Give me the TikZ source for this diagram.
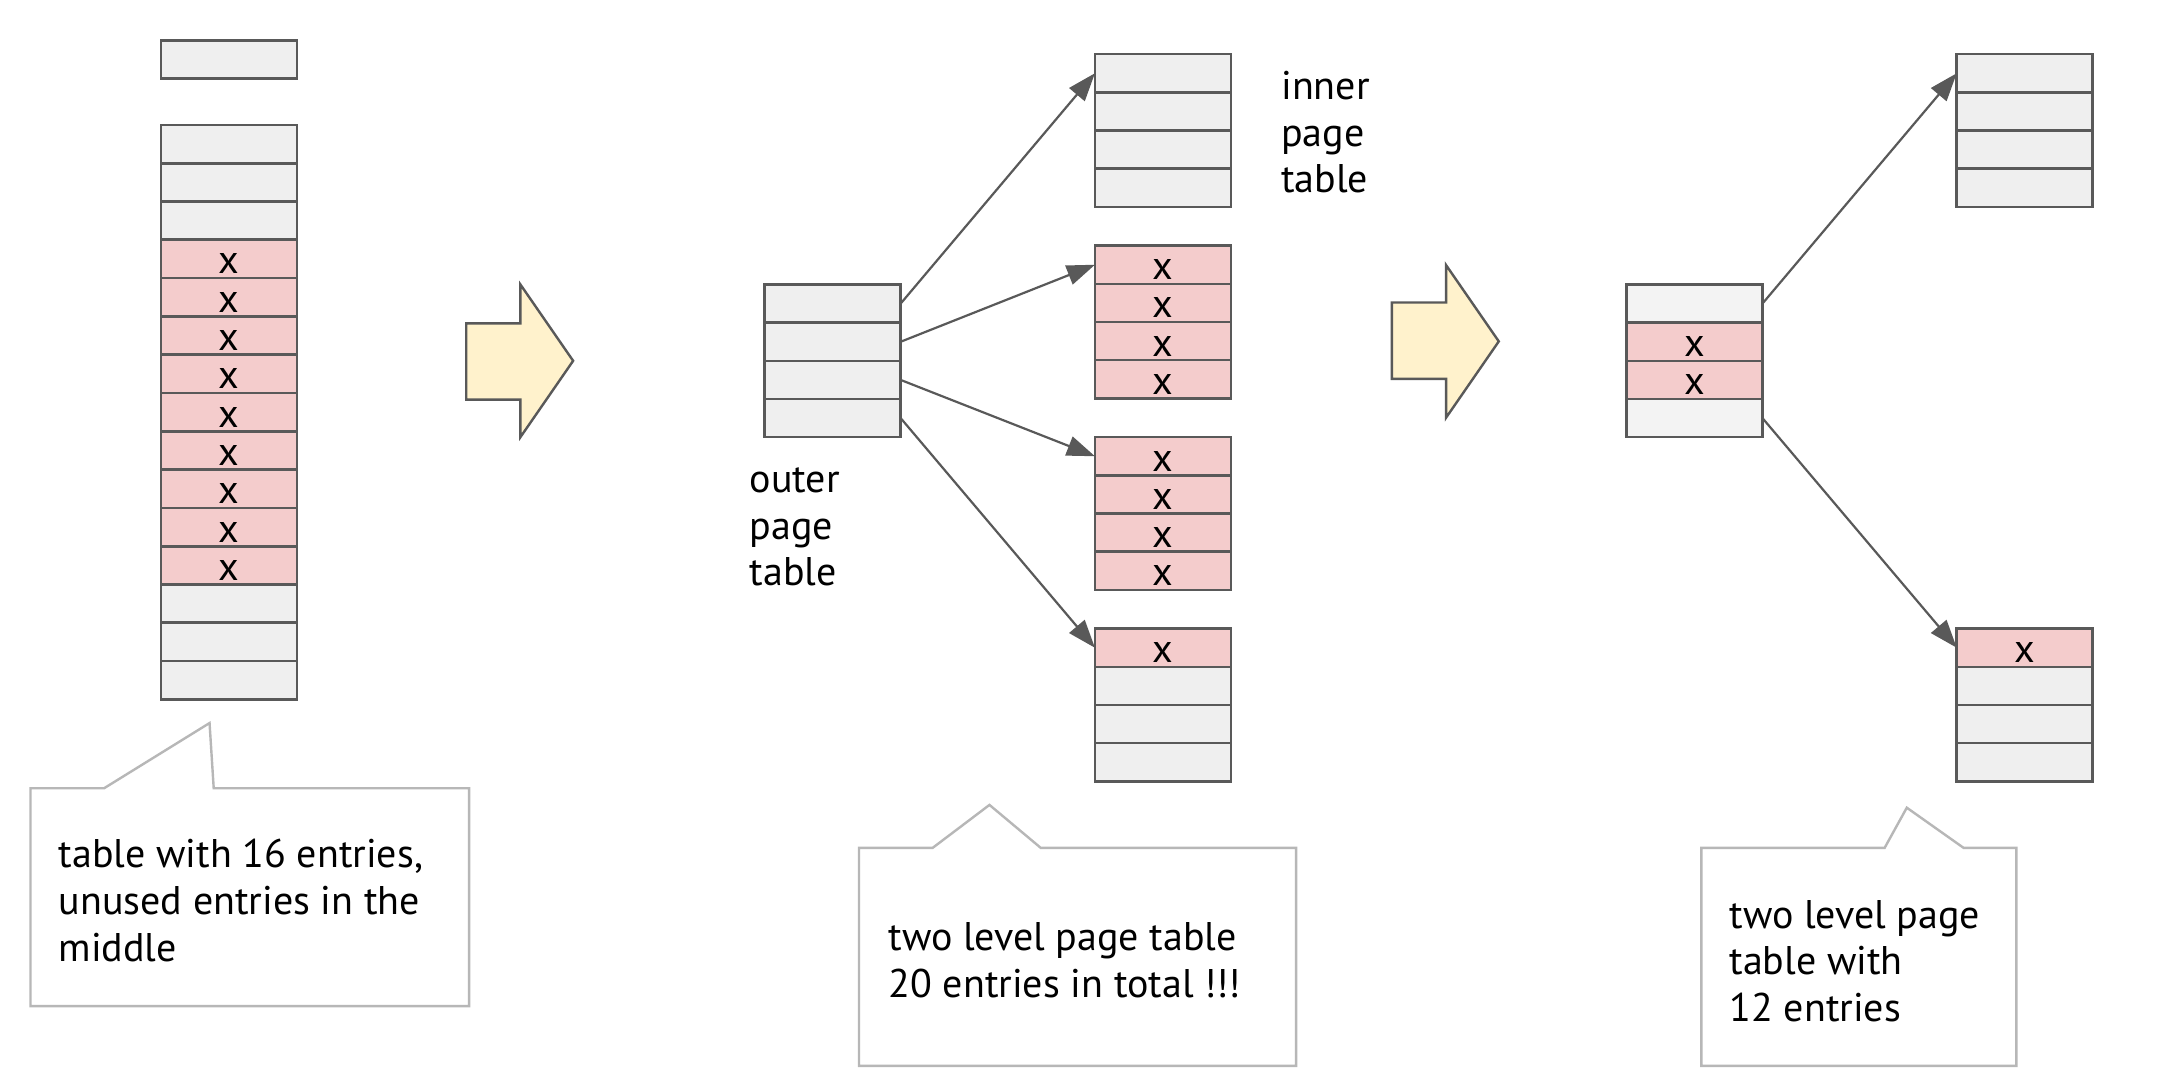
\documentclass[tikz,border=0pt]{standalone}
\usepackage{fontspec}
\setmainfont{PT Sans}
\usetikzlibrary{arrows.meta}
\definecolor{lineg}{HTML}{595959}
\definecolor{gfill}{HTML}{EFEFEF}
\definecolor{gfillb}{HTML}{F3F3F3}
\definecolor{pfill}{HTML}{F4CCCC}
\definecolor{afill}{HTML}{FFF2CC}
\definecolor{cline}{HTML}{B7B7B7}
\begin{document}
\begin{tikzpicture}[x=0.6939pt,y=-0.6939pt,
 cell/.style={draw=lineg, line width=1.3pt, minimum width=68pt, minimum height=19.1pt,
   inner sep=0pt, outer sep=0pt, anchor=north west, text height=15pt, text depth=0pt,
   font=\fontsize{20}{21}\selectfont},
 cellg/.style={cell, fill=gfill},
 cellp/.style={cell, fill=pfill},
 cellw/.style={cell, fill=gfillb},
 link/.style={draw=lineg, line width=1.1pt, -{Triangle[length=14pt,width=10pt]}},
 blockarrow/.style={draw=lineg, line width=1.2pt, fill=afill, line join=miter},
 callout/.style={draw=cline, line width=1.2pt, fill=white},
 lbl/.style={align=left, anchor=base west, inner sep=0pt, font=\fontsize{20}{23.3}\selectfont}
]
\useasboundingbox (0,0) rectangle (1568,785.4);

% ---- left: single-level table with 16 entries
\node[cellg] (c0) at (116,29) {};
\foreach \i in {1,2,3,13,14,15}
  \node[cellg] (c\i) at (116,{90+(\i-1)*27.6}) {};
\foreach \i in {4,...,12}
  \node[cellp] (c\i) at (116,{90+(\i-1)*27.6}) {x};

% block arrow 1
\draw[blockarrow] (336,233) -- (375,233) -- (375,205) -- (413,260) -- (375,315) -- (375,288) -- (336,288) -- cycle;

% callout 1
\draw[callout] (22,568) -- (75,568) -- (151,521) -- (154,568) -- (338,568) -- (338,725) -- (22,725) -- cycle;
\node[lbl] (txt1) at (42,692.5) {table with 16 entries,\\unused entries in the\\middle};

% ---- middle: outer table
\foreach \i in {1,...,4}
  \node[cellg] (o\i) at (551,{205+(\i-1)*27.5}) {};
\node[lbl] (outerlbl) at (540,422) {outer\\page\\table};

% inner tables
\foreach \j in {1,...,4}
  \node[cellg] (t1\j) at (789,{39+(\j-1)*27.5}) {};
\foreach \j in {1,...,4}
  \node[cellp] (t2\j) at (789,{177+(\j-1)*27.5}) {x};
\foreach \j in {1,...,4}
  \node[cellp] (t3\j) at (789,{315+(\j-1)*27.5}) {x};
\node[cellp] (t41) at (789,453) {x};
\foreach \j in {2,3,4}
  \node[cellg] (t4\j) at (789,{453+(\j-1)*27.5}) {};
\node[lbl] (innerlbl) at (923,139) {inner\\page\\table};

\foreach \k in {1,...,4}
  \draw[link] (o\k.east) -- (t\k1.west);

% block arrow 2
\draw[blockarrow] (1003,218) -- (1042,218) -- (1042,191) -- (1080,246) -- (1042,301) -- (1042,273) -- (1003,273) -- cycle;

% callout 2
\draw[callout] (619,611) -- (672,611) -- (713,580) -- (750,611) -- (934,611) -- (934,768) -- (619,768) -- cycle;
\node[lbl] (txt2) at (640,718.5) {two level page table\\20 entries in total !!!};

% ---- right: reduced two-level table
\node[cellw] (r1) at (1172,205) {};
\node[cellp] (r2) at (1172,232.5) {x};
\node[cellp] (r3) at (1172,260) {x};
\node[cellw] (r4) at (1172,287.5) {};

\foreach \j in {1,...,4}
  \node[cellg] (u1\j) at (1410,{39+(\j-1)*27.5}) {};
\node[cellp] (u21) at (1410,453) {x};
\foreach \j in {2,3,4}
  \node[cellg] (u2\j) at (1410,{453+(\j-1)*27.5}) {};

\draw[link] (r1.east) -- (u11.west);
\draw[link] (r4.east) -- (u21.west);

% callout 3
\draw[callout] (1226,611) -- (1358,611) -- (1374,582) -- (1415,611) -- (1453,611) -- (1453,768) -- (1226,768) -- cycle;
\node[lbl] (txt3) at (1246,736) {two level page\\table with\\12 entries};
\end{tikzpicture}
\end{document}
